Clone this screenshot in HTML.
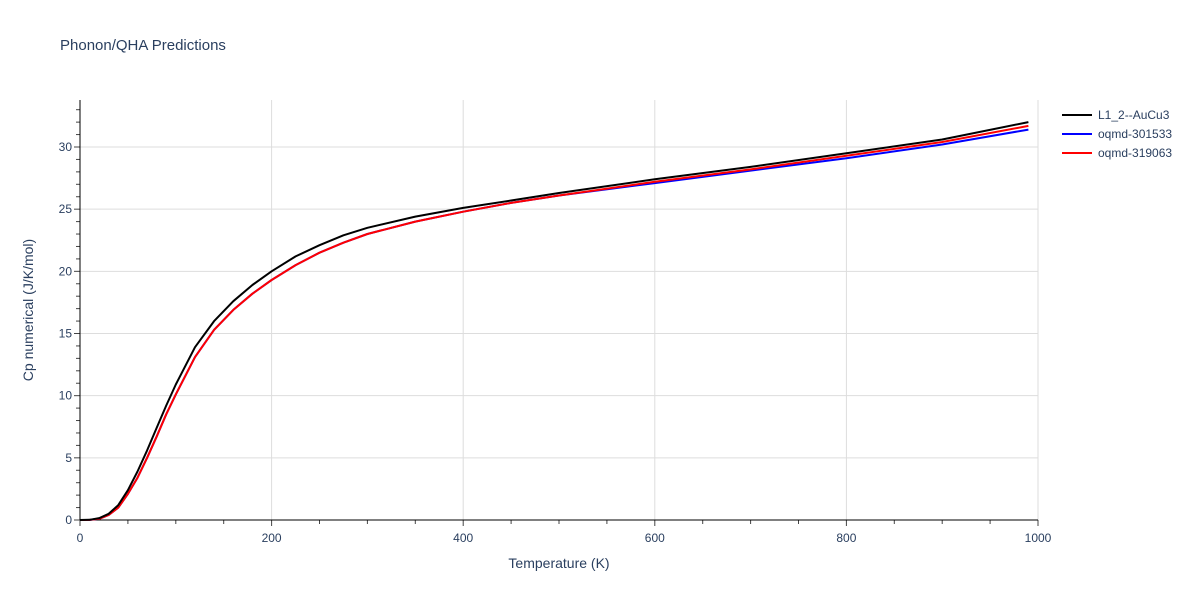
<!DOCTYPE html>
<html><head><meta charset="utf-8"><style>
body{margin:0;background:#fff;font-family:"Liberation Sans",sans-serif}
svg text{font-family:"Liberation Sans",sans-serif;fill:#2a3f5f}
</style></head><body>
<svg id="chart" width="1200" height="600">
<text x="60" y="50" font-size="15">Phonon/QHA Predictions</text>
<g id="grid"></g><g id="ticks"></g><g id="series"></g>
<text x="559" y="568" font-size="14" text-anchor="middle">Temperature (K)</text>
<text transform="translate(33,310) rotate(-90)" font-size="14" text-anchor="middle">Cp numerical (J/K/mol)</text>
<g id="legend"></g>
</svg>
<script>
const temps=[0,10,20,30,40,50,60,70,80,90,100,120,140,160,180,200,225,250,275,300,350,400,450,500,600,700,800,900,990];
const cpL12=[0,0.02,0.15,0.5,1.2,2.4,3.9,5.6,7.4,9.2,10.9,13.9,16.0,17.6,18.9,20.0,21.2,22.1,22.9,23.5,24.4,25.1,25.7,26.3,27.4,28.4,29.5,30.6,32.0];
const cp301533=[0,0.01,0.1,0.4,1.0,2.1,3.4,5.0,6.7,8.5,10.1,13.1,15.3,16.9,18.2,19.3,20.5,21.5,22.3,23.0,24.0,24.8,25.5,26.1,27.1,28.1,29.1,30.2,31.4];
const cp319063=[0,0.01,0.1,0.4,1.0,2.1,3.4,5.0,6.7,8.5,10.1,13.1,15.3,16.9,18.2,19.3,20.5,21.5,22.3,23.0,24.0,24.8,25.5,26.1,27.2,28.2,29.3,30.4,31.7];
const seriesNames=["L1_2--AuCu3","oqmd-301533","oqmd-319063"];
const xTicks=[0,200,400,600,800,1000];
const yTicks=[0,5,10,15,20,25,30];
const NS="http://www.w3.org/2000/svg";
const X0=80,X1=1038,Y0=520,Y1=100;
const xs=t=>X0+(X1-X0)*t/1000;
const ys=v=>Y0-(Y0-147)*v/30;
function mk(tag,attrs,parent){const e=document.createElementNS(NS,tag);for(const k in attrs)e.setAttribute(k,attrs[k]);parent.appendChild(e);return e;}
const grid=document.getElementById('grid'),ticks=document.getElementById('ticks'),ser=document.getElementById('series'),leg=document.getElementById('legend');
xTicks.forEach(t=>{if(t>0){const l=mk('line',{x1:xs(t),x2:xs(t),y1:Y1,y2:Y0,stroke:'#ddd'},grid);

}
const tx=mk('text',{x:xs(t),y:Y0+22,'font-size':12,'text-anchor':'middle'},ticks);tx.textContent=t;

});
yTicks.forEach(v=>{if(v>0){const l=mk('line',{x1:X0,x2:X1,y1:ys(v),y2:ys(v),stroke:'#ddd'},grid);

}
const tx=mk('text',{x:X0-8,y:ys(v)+4,'font-size':12,'text-anchor':'end'},ticks);tx.textContent=v;

});
for(let t=0;t<=1000;t+=50)mk('line',{x1:xs(t),x2:xs(t),y1:Y0,y2:Y0+(t%200==0?6:4),stroke:'#444'},ticks);
for(let v=0;v<=33;v++)mk('line',{x1:X0,x2:X0-(v%5==0?6:4),y1:ys(v),y2:ys(v),stroke:'#444'},ticks);
const ax=mk('line',{x1:X0,x2:X0,y1:Y1,y2:Y0,stroke:'#000'},ticks);


const ax2=mk('line',{x1:X0,x2:X1,y1:Y0,y2:Y0,stroke:'#000'},ticks);


const all=[cpL12,cp301533,cp319063],cols=['#000','#00f','#f00'];
[1,2,0].forEach(i=>{const d=temps.map((t,j)=>(j?'L':'M')+xs(t).toFixed(1)+','+ys(all[i][j]).toFixed(1)).join('');
const p=mk('path',{d:d,fill:'none',stroke:cols[i],'stroke-width':2,'stroke-linejoin':'round'},ser);

});
seriesNames.forEach((n,i)=>{const y=115+19*i;
const g=mk('g',{},leg);


mk('line',{x1:1062,x2:1092,y1:y,y2:y,stroke:cols[i],'stroke-width':2},g);
const t=mk('text',{x:1098,y:y+4,'font-size':12},g);t.textContent=n;});
</script>
</body></html>
